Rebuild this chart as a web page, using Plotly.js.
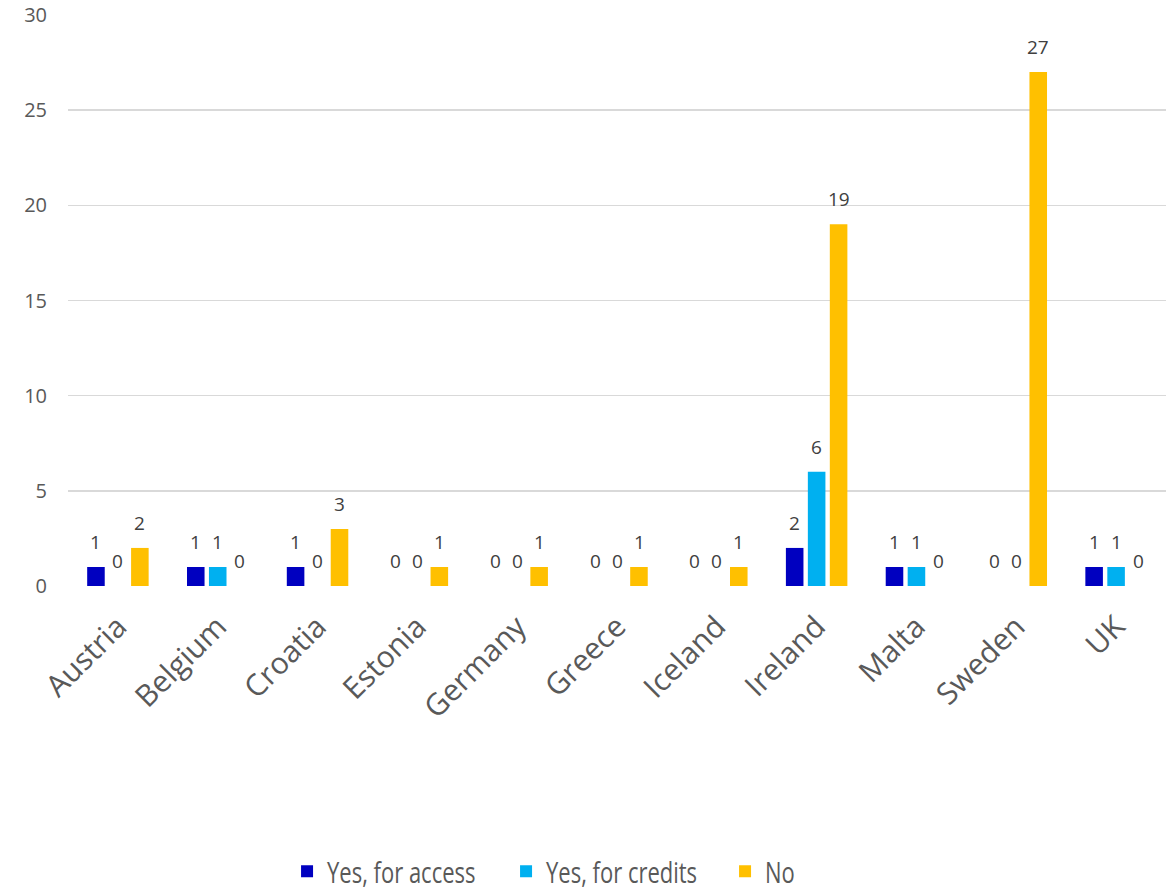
<!DOCTYPE html>
<html>
<head>
<meta charset="utf-8">
<script src="https://cdn.plot.ly/plotly-3.0.1.min.js"></script>
<style>
html,body{margin:0;padding:0;background:#fff;}
#chart{width:1169px;height:891px;}
#chart .legend text.legendtext{transform-box:fill-box;transform-origin:center;transform:scaleY(1.35);}
</style>
</head>
<body>
<div id="chart"></div>
<script>
const countries = ["Austria","Belgium","Croatia","Estonia","Germany","Greece","Iceland","Ireland","Malta","Sweden","UK"];
const seriesNames = ["Yes, for access","Yes, for credits","No"];
const yesAccess = [1,1,1,0,0,0,0,2,1,0,1];
const yesCredits = [0,1,0,0,0,0,0,6,1,0,1];
const no = [2,0,3,1,1,1,1,19,0,27,0];
const colors = ["#0000C0","#00B0F0","#FFC000"];
const series = [yesAccess, yesCredits, no];

const data = series.map((vals, i) => ({
  type: "bar", name: seriesNames[i], x: countries, y: vals,
  marker: {color: colors[i], line: {width: 0}}, hoverinfo: "x+y+name"
}));

const annotations = [];
series.forEach((vals, i) => {
  vals.forEach((v, j) => {
    annotations.push({
      x: countries[j], y: v, xref: "x", yref: "y",
      text: String(v), showarrow: false,
      xshift: (i - 1) * 22, yshift: 25, yanchor: "middle",
      font: {family: "Open Sans, sans-serif", size: 19, color: "#404040"}
    });
  });
});

const layout = {
  width: 1169, height: 891,
  margin: {l: 68, r: 3, t: 15, b: 305},
  paper_bgcolor: "#fff", plot_bgcolor: "#fff",
  barmode: "group", bargap: 0.34, bargroupgap: 0.2,
  font: {family: "Open Sans, sans-serif", color: "#595959"},
  xaxis: {
    tickangle: -45, tickfont: {size: 30, color: "#595959"},
    showgrid: false, zeroline: false, showline: false, ticks: "",
    ticklabelstandoff: 16, automargin: false
  },
  yaxis: {
    range: [0, 30], dtick: 5, tickfont: {size: 20, color: "#595959"},
    gridcolor: "#D9D9D9", gridwidth: 1.5, zeroline: false, showline: false,
    ticks: "", ticklabelstandoff: 20, automargin: false
  },
  annotations: annotations,
  showlegend: true,
  legend: {
    orientation: "h", xref: "paper", yref: "container",
    x: 0.1995, xanchor: "left", y: 0.022, yanchor: "middle",
    font: {family: "Open Sans, sans-serif", size: 22, color: "#595959"},
    itemwidth: 30, entrywidth: 174, entrywidthmode: "pixels",
    traceorder: "normal"
  }
};
Plotly.newPlot("chart", data, layout, {displayModeBar: false, staticPlot: true});
</script>
</body>
</html>
